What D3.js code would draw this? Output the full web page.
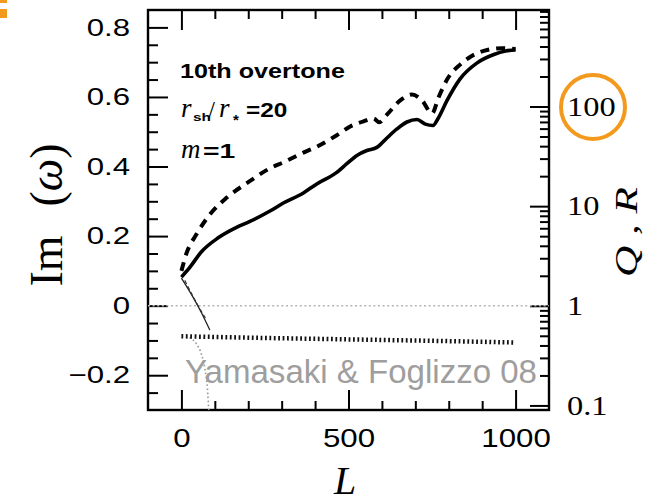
<!DOCTYPE html>
<html>
<head>
<meta charset="utf-8">
<script src="https://cdn.jsdelivr.net/npm/d3@7"></script>
<style>
  html, body { margin: 0; padding: 0; background: #fff; }
  svg { display: block; }
</style>
</head>
<body>
<svg id="chart" width="665" height="504"></svg>
<script>
// Growth rate Im(omega) of the 10th overtone as a function of luminosity L
const solidL  = [0, 25, 60, 110, 165, 205, 265, 305, 365, 405, 465, 495, 525, 555, 585, 615, 645, 675, 705, 730, 753, 768, 795, 834, 885, 935, 970, 1000];
const solidIm = [0.082, 0.11, 0.155, 0.195, 0.225, 0.242, 0.272, 0.295, 0.324, 0.35, 0.383, 0.408, 0.432, 0.446, 0.455, 0.482, 0.508, 0.528, 0.535, 0.522, 0.518, 0.538, 0.59, 0.652, 0.698, 0.722, 0.732, 0.735];

const dashedL  = [0, 15, 45, 85, 135, 200, 265, 305, 365, 405, 465, 505, 545, 575, 592, 615, 655, 690, 720, 750, 770, 798, 834, 864, 915, 960, 1000];
const dashedIm = [0.10, 0.15, 0.205, 0.262, 0.31, 0.355, 0.395, 0.412, 0.44, 0.457, 0.49, 0.515, 0.53, 0.538, 0.527, 0.549, 0.59, 0.607, 0.59, 0.553, 0.60, 0.655, 0.693, 0.715, 0.735, 0.74, 0.738];

// Damped branch (thick dotted)
const dampedL  = [0, 200, 500, 800, 1000];
const dampedIm = [-0.088, -0.092, -0.097, -0.102, -0.106];

// Diverging branch (thin grey dotted)
const branchL  = [24, 45, 60, 70, 78, 82, 85];
const branchIm = [-0.092, -0.11, -0.14, -0.18, -0.24, -0.30, -0.32];

// Q and R, read on the logarithmic right axis
const qL   = [0, 30, 60, 85];
const qVal = [1.9, 1.3, 0.85, 0.57];
const rL   = [10, 40, 75];
const rVal = [1.8, 1.15, 0.72];

// Axis ticks
const xMajor = [0, 500, 1000];
const xMinor = [100, 200, 300, 400, 600, 700, 800, 900];
const yMajor = [-0.2, 0, 0.2, 0.4, 0.6, 0.8];
const yMinor = [-0.25, -0.15, -0.1, -0.05, 0.05, 0.1, 0.15, 0.25, 0.3, 0.35, 0.45, 0.5, 0.55, 0.65, 0.7, 0.75];
const rMajor = [0.1, 1, 10, 100];
const rMajorLabels = ["0.1", "1", "10", "100"];
const rMinor = [0.2, 0.3, 0.4, 0.5, 0.6, 0.7, 0.8, 0.9, 2, 3, 4, 5, 6, 7, 8, 9, 20, 30, 40, 50, 60, 70, 80, 90, 200, 300, 400, 500, 600, 700, 800, 900];

const svg = d3.select("#chart");
const pL = 148, pR = 549, pT = 10, pB = 410;

const x = d3.scaleLinear().domain([-100, 1100]).range([pL, pR]);
const y = d3.scaleLinear().domain([-0.3, 0.85]).range([pB, pT]);
const yR = d3.scaleLog().domain([0.09, 930]).range([pB, pT]);

// stretch a text horizontally by k (its glyphs are drawn wider than the font)
function stretch(sel, k) {
  sel.each(function () {
    const w = this.getComputedTextLength();
    this.setAttribute("textLength", w * k);
    this.setAttribute("lengthAdjust", "spacingAndGlyphs");
  });
}

const sans = "'Liberation Sans', Arial, Helvetica, sans-serif";
const serif = "'Liberation Serif', 'Times New Roman', serif";

svg.append("defs").append("clipPath").attr("id", "plot")
  .append("rect").attr("x", pL).attr("y", pT)
  .attr("width", pR - pL).attr("height", pB - pT);

// ---- axes ----
function styleAxis(g) {
  g.select(".domain").remove();
  g.selectAll(".tick line").attr("stroke", "#000").attr("stroke-width", 2);
}

// bottom
svg.append("g").attr("transform", `translate(0,${pB})`)
  .call(d3.axisBottom(x).tickValues(xMajor).tickSizeInner(-20).tickSizeOuter(0).tickPadding(19).tickFormat(d3.format("d")))
  .call(styleAxis)
  .call(g => g.selectAll("text").attr("font-family", sans).attr("font-size", 25).attr("fill", "#000").call(stretch, 1.25));
svg.append("g").attr("transform", `translate(0,${pB})`)
  .call(d3.axisBottom(x).tickValues(xMinor).tickSizeInner(-9).tickSizeOuter(0).tickFormat(""))
  .call(styleAxis);
// top
svg.append("g").attr("transform", `translate(0,${pT})`)
  .call(d3.axisTop(x).tickValues(xMajor).tickSizeInner(-20).tickSizeOuter(0).tickFormat(""))
  .call(styleAxis);
svg.append("g").attr("transform", `translate(0,${pT})`)
  .call(d3.axisTop(x).tickValues(xMinor).tickSizeInner(-9).tickSizeOuter(0).tickFormat(""))
  .call(styleAxis);
// left
svg.append("g").attr("transform", `translate(${pL},0)`)
  .call(d3.axisLeft(y).tickValues(yMajor).tickSizeInner(-20).tickSizeOuter(0).tickPadding(18)
        .tickFormat(d => d === 0 ? "0" : d3.format(".1f")(d).replace("-", "\u2212")))
  .call(styleAxis)
  .call(g => g.selectAll("text").attr("font-family", sans).attr("font-size", 24).attr("fill", "#000").call(stretch, 1.3));
svg.append("g").attr("transform", `translate(${pL},0)`)
  .call(d3.axisLeft(y).tickValues(yMinor).tickSizeInner(-10).tickSizeOuter(0).tickFormat(""))
  .call(styleAxis);
// right (logarithmic)
svg.append("g").attr("transform", `translate(${pR},0)`)
  .call(d3.axisRight(yR).tickValues(rMajor).tickSizeInner(-19).tickSizeOuter(0).tickPadding(18)
        .tickFormat((d, i) => rMajorLabels[i]))
  .call(styleAxis)
  .call(g => g.selectAll("text").attr("font-family", serif).attr("font-size", 27).attr("fill", "#000").call(stretch, 1.2));
svg.append("g").attr("transform", `translate(${pR},0)`)
  .call(d3.axisRight(yR).tickValues(rMinor).tickSizeInner(-9).tickSizeOuter(0).tickFormat(""))
  .call(styleAxis);

// frame
svg.append("rect").attr("x", pL).attr("y", pT)
  .attr("width", pR - pL).attr("height", pB - pT)
  .attr("fill", "none").attr("stroke", "#000").attr("stroke-width", 2.4);

// ---- curves ----
const plot = svg.append("g").attr("clip-path", "url(#plot)");

// zero line
plot.append("line")
  .attr("x1", x(-100)).attr("x2", x(1100)).attr("y1", y(0)).attr("y2", y(0))
  .attr("stroke", "#b4b4b4").attr("stroke-width", 1.5).attr("stroke-dasharray", "2 2.6");

const lineIm = d3.line().x(d => x(d[0])).y(d => y(d[1])).curve(d3.curveMonotoneX);
const lineLog = d3.line().x(d => x(d[0])).y(d => yR(d[1])).curve(d3.curveMonotoneX);

plot.append("path").datum(d3.zip(branchL, branchIm))
  .attr("d", lineIm).attr("fill", "none")
  .attr("stroke", "#9a9a9a").attr("stroke-width", 1.6).attr("stroke-dasharray", "1.6 2.4");

plot.append("path").datum(d3.zip(dampedL, dampedIm))
  .attr("d", lineIm).attr("fill", "none")
  .attr("stroke", "#111").attr("stroke-width", 4.5).attr("stroke-dasharray", "1.8 2.6");

plot.append("path").datum(d3.zip(qL, qVal))
  .attr("d", lineLog).attr("fill", "none")
  .attr("stroke", "#222").attr("stroke-width", 1.3);

plot.append("path").datum(d3.zip(rL, rVal))
  .attr("d", lineLog).attr("fill", "none")
  .attr("stroke", "#333").attr("stroke-width", 1.2).attr("stroke-dasharray", "4 2.5");

plot.append("path").datum(d3.zip(dashedL, dashedIm))
  .attr("d", lineIm).attr("fill", "none")
  .attr("stroke", "#000").attr("stroke-width", 4).attr("stroke-dasharray", "9 7");

plot.append("path").datum(d3.zip(solidL, solidIm))
  .attr("d", lineIm).attr("fill", "none")
  .attr("stroke", "#000").attr("stroke-width", 3.6).attr("stroke-linejoin", "round");

// ---- annotation ----
const ann = svg.append("g").attr("fill", "#000");
ann.append("text").attr("x", 180).attr("y", 78)
  .attr("font-family", sans).attr("font-weight", "bold").attr("font-size", 19.5)
  .text("10th overtone").call(stretch, 1.29);

ann.append("text").attr("x", 181).attr("y", 117)
  .attr("font-family", serif).attr("font-style", "italic").attr("font-size", 27).text("r");
ann.append("text").attr("x", 193).attr("y", 121)
  .attr("font-family", sans).attr("font-weight", "bold").attr("font-size", 11).text("sh").call(stretch, 1.4);
ann.append("text").attr("x", 208).attr("y", 119)
  .attr("font-family", serif).attr("font-size", 25).text("/");
ann.append("text").attr("x", 219).attr("y", 117)
  .attr("font-family", serif).attr("font-style", "italic").attr("font-size", 27).text("r");
ann.append("text").attr("x", 233).attr("y", 125)
  .attr("font-family", sans).attr("font-weight", "bold").attr("font-size", 15).text("*");
ann.append("text").attr("x", 246).attr("y", 117)
  .attr("font-family", sans).attr("font-weight", "bold").attr("font-size", 19.5)
  .text("=20").call(stretch, 1.25);

ann.append("text").attr("x", 181).attr("y", 158)
  .attr("font-family", serif).attr("font-style", "italic").attr("font-size", 27).text("m");
ann.append("text").attr("x", 203).attr("y", 158)
  .attr("font-family", sans).attr("font-weight", "bold").attr("font-size", 19.5)
  .text("=1").call(stretch, 1.45);

// ---- axis titles ----
svg.append("text")
  .attr("transform", "translate(62,261) rotate(-90)")
  .attr("text-anchor", "middle").attr("font-family", serif).attr("font-size", 46)
  .text("Im");
svg.append("text")
  .attr("transform", "translate(62,175) rotate(-90)")
  .attr("text-anchor", "middle").attr("font-family", serif).attr("font-size", 46)
  .call(t => {
    t.append("tspan").text("(");
    t.append("tspan").attr("font-style", "italic").text("ω");
    t.append("tspan").text(")");
  });

svg.append("text")
  .attr("x", 345).attr("y", 494).attr("text-anchor", "middle")
  .attr("font-family", serif).attr("font-style", "italic").attr("font-size", 40)
  .text("L");

svg.append("text")
  .attr("transform", "translate(637,232) rotate(-90)")
  .attr("text-anchor", "middle").attr("font-family", serif).attr("font-style", "italic").attr("font-size", 31)
  .attr("textLength", 90).attr("lengthAdjust", "spacingAndGlyphs")
  .text("Q , R");

// ---- credit and highlight ----
svg.append("text")
  .attr("x", 185).attr("y", 383)
  .attr("font-family", sans).attr("font-size", 32.5).attr("fill", "#9e9e9e")
  .attr("textLength", 352).attr("lengthAdjust", "spacingAndGlyphs")
  .text("Yamasaki & Foglizzo 08");

svg.append("circle")
  .attr("cx", 593).attr("cy", 107).attr("r", 32)
  .attr("fill", "none").attr("stroke", "#f39a1e").attr("stroke-width", 4);

svg.append("rect").attr("x", 0).attr("y", 0).attr("width", 7).attr("height", 3).attr("fill", "#f39a1e");
svg.append("rect").attr("x", 0).attr("y", 9).attr("width", 7).attr("height", 9).attr("fill", "#f39a1e");
</script>
</body>
</html>
